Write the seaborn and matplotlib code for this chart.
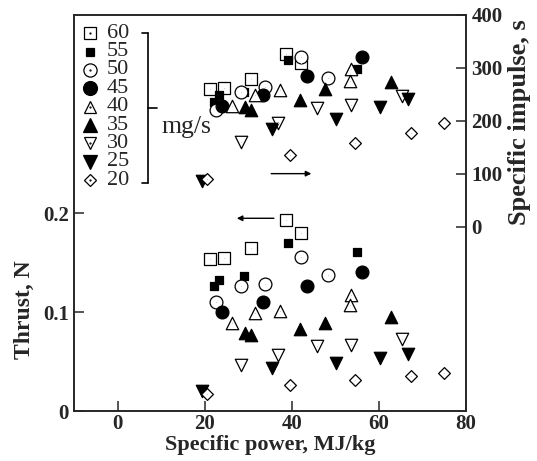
import matplotlib
matplotlib.use("Agg")
import matplotlib.pyplot as plt
import seaborn as sns
from matplotlib.lines import Line2D

# mass flow rates, mg/s
flows = [60, 55, 50, 45, 40, 35, 30, 25, 20]

power60 = [21.2, 24.4, 30.6, 38.7, 42.0]
thrust60 = [0.154, 0.155, 0.165, 0.193, 0.180]
isp60 = [260, 262, 279, 326, 308]

power55 = [22.0, 23.2, 28.9, 39.1, 54.9]
thrust55 = [0.126, 0.133, 0.137, 0.170, 0.161]
isp55 = [235, 248, 254, 314, 298]

power50 = [22.6, 28.2, 33.8, 42.1, 48.4]
thrust50 = [0.110, 0.126, 0.129, 0.156, 0.138]
isp50 = [220, 255, 264, 320, 281]

power45 = [24.0, 33.3, 43.4, 56.1]
thrust45 = [0.100, 0.110, 0.126, 0.141]
isp45 = [228, 249, 284, 321]

power40 = [26.2, 31.6, 37.3, 53.6, 53.4]
thrust40 = [0.089, 0.099, 0.101, 0.117, 0.107]
isp40 = [227, 249, 257, 298, 275]

power35 = [29.3, 30.6, 41.8, 47.5, 62.8]
thrust35 = [0.079, 0.077, 0.083, 0.089, 0.095]
isp35 = [225, 221, 239, 260, 273]

power30 = [28.3, 36.8, 45.7, 53.5, 65.3]
thrust30 = [0.047, 0.057, 0.066, 0.067, 0.073]
isp30 = [160, 195, 224, 229, 246]

power25 = [19.3, 35.5, 50.2, 60.2, 66.6]
thrust25 = [0.020, 0.044, 0.049, 0.054, 0.058]
isp25 = [87, 185, 204, 225, 240]

power20 = [20.4, 39.5, 54.5, 67.3, 75.0]
thrust20 = [0.017, 0.026, 0.031, 0.035, 0.038]
isp20 = [90, 135, 158, 176, 196]

series = {
    60: (power60, thrust60, isp60),
    55: (power55, thrust55, isp55),
    50: (power50, thrust50, isp50),
    45: (power45, thrust45, isp45),
    40: (power40, thrust40, isp40),
    35: (power35, thrust35, isp35),
    30: (power30, thrust30, isp30),
    25: (power25, thrust25, isp25),
    20: (power20, thrust20, isp20),
}

# marker, filled?, size
styles = {
    60: ("s", False, 80),
    55: ("s", True, 32),
    50: ("o", False, 85),
    45: ("o", True, 85),
    40: ("^", False, 80),
    35: ("^", True, 80),
    30: ("v", False, 80),
    25: ("v", True, 80),
    20: ("D", False, 36),
}

sns.set_style("ticks")
plt.rcParams["font.family"] = ["Liberation Serif", "DejaVu Serif"]

W, H = 537, 461
fig = plt.figure(figsize=(W / 100, H / 100), dpi=100)
ax = fig.add_axes([74.3 / W, 1 - 411 / H, (466 - 74.3) / W, (411 - 14.7) / H])
ax2 = ax.twinx()


def draw(axis, x, y, marker, filled, size):
    sns.scatterplot(x=x, y=y, ax=axis, marker=marker, s=size,
                    color="black" if filled else "white",
                    edgecolor="black", linewidth=0.9, zorder=3)
    if not filled:
        sns.scatterplot(x=x, y=y, ax=axis, marker=".", s=2,
                        color="black", linewidth=0, zorder=4)


for f in flows:
    p, t, i = series[f]
    m, filled, size = styles[f]
    draw(ax, p, t, m, filled, size)
    draw(ax2, p, i, m, filled, size)

ax.set_xlim(-10, 80)
ax.set_ylim(0, 0.401)
ax2.set_ylim(-348, 398)
ax.set_xticks([0, 20, 40, 60, 80])
ax.set_yticks([0, 0.1, 0.2])
ax.set_yticklabels(["0", "0.1", "0.2"])
ax2.set_yticks([0, 100, 200, 300, 400])

for a in (ax, ax2):
    a.tick_params(direction="in", length=7, width=1.1, labelsize=15, pad=4)
    for lab in a.get_xticklabels() + a.get_yticklabels():
        lab.set_fontweight("bold")
    for sp in a.spines.values():
        sp.set_linewidth(1.2)
        sp.set_visible(True)
ax.tick_params(axis="x", pad=2)

ax.set_xlabel("Specific power, MJ/kg", fontsize=16, fontweight="bold")
ax.set_ylabel("Thrust, N", fontsize=17, fontweight="bold")
ax2.set_ylabel("Specific impulse, s", fontsize=19, fontweight="bold")
ax.xaxis.set_label_coords(0.5, -0.061)
ax.yaxis.set_label_coords(-0.100, 0.255)
ax2.yaxis.set_label_coords(1.106, 0.730)

# direction arrows
ax.annotate("", xy=(26.7, 0.195), xytext=(36.5, 0.195),
            arrowprops=dict(arrowstyle="-|>", color="black", lw=1.0,
                            mutation_scale=8))
ax2.annotate("", xy=(45.1, 100), xytext=(34.6, 100),
             arrowprops=dict(arrowstyle="-|>", color="black", lw=1.0,
                             mutation_scale=8))

# legend drawn by hand in figure pixels
leg_sizes = {60: 9.0, 55: 6.0, 50: 9.5, 45: 10.0, 40: 9.0, 35: 9.5,
             30: 9.0, 25: 9.5, 20: 6.0}
for k, f in enumerate(flows):
    m, filled, _ = styles[f]
    yk = 1 - (33.3 + k * 18.35) / H
    fig.add_artist(Line2D([90 / W], [yk], linestyle="none", marker=m,
                          markersize=leg_sizes[f],
                          markerfacecolor="black" if filled else "white",
                          markeredgecolor="black", markeredgewidth=0.9,
                          transform=fig.transFigure))
    if not filled:
        fig.add_artist(Line2D([90 / W], [yk], linestyle="none", marker=".",
                              markersize=1.2, color="black",
                              transform=fig.transFigure))
    fig.text(107 / W, yk, str(f), fontsize=16, ha="left", va="center")

# bracket around the legend entries
kw = dict(color="black", lw=1.2, transform=fig.transFigure)
fig.add_artist(Line2D([148.3 / W] * 2, [1 - 182.7 / H, 1 - 33.3 / H], **kw))
fig.add_artist(Line2D([141.7 / W, 148.3 / W], [1 - 33.3 / H] * 2, **kw))
fig.add_artist(Line2D([141.7 / W, 148.3 / W], [1 - 182.7 / H] * 2, **kw))
fig.add_artist(Line2D([148.3 / W, 156.7 / W], [1 - 108.3 / H] * 2, **kw))
fig.text(161 / W, 1 - 126.7 / H, "mg/s", fontsize=18.5, va="center", ha="left")

fig.savefig("out.png", dpi=100)
